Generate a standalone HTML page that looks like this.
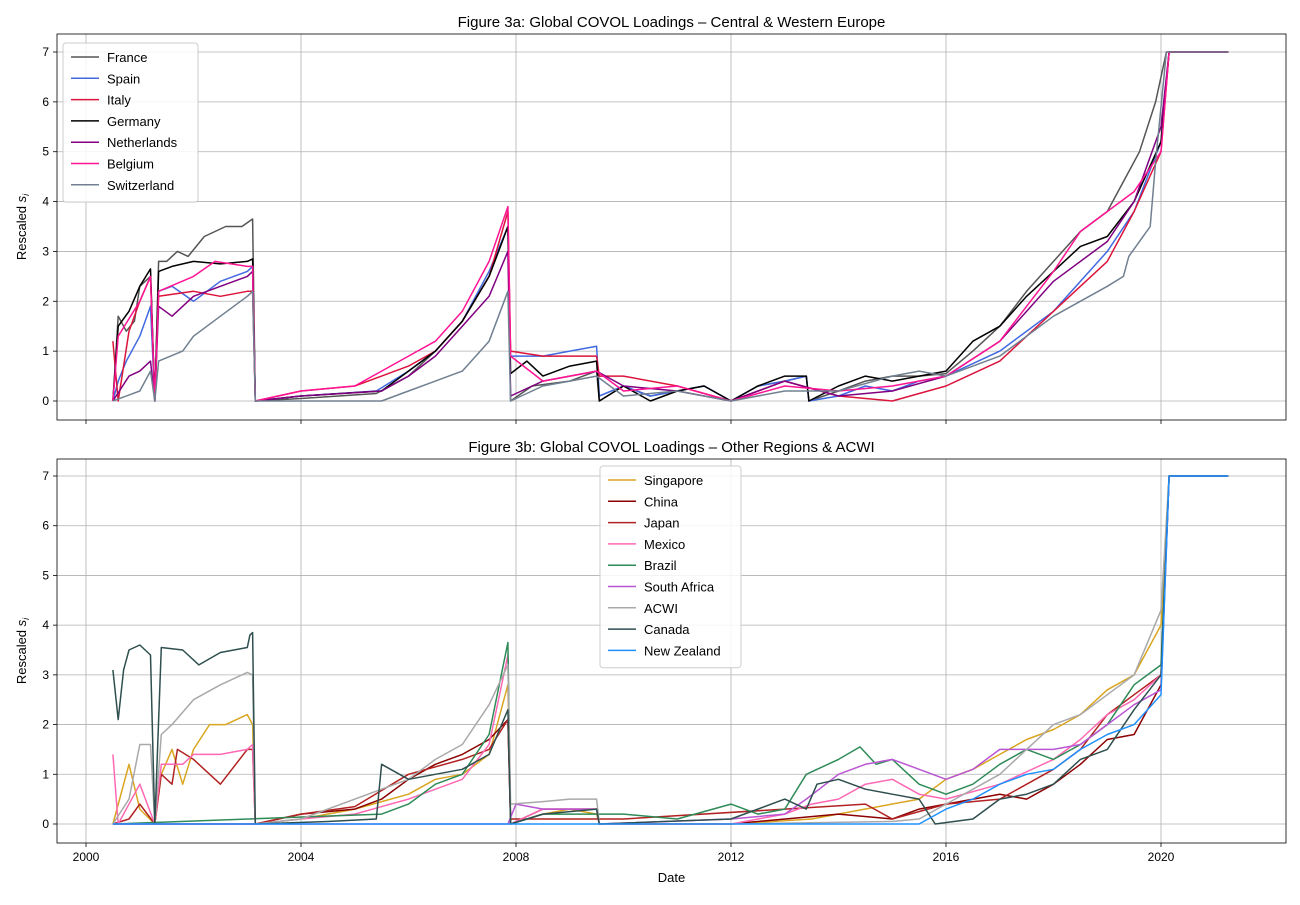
<!DOCTYPE html>
<html><head><meta charset="utf-8"><style>
body{margin:0;background:#fff;}
svg text{font-family:"Liberation Sans","DejaVu Sans",sans-serif;fill:#000;}
</style></head><body>
<svg id="chart" width="1300" height="900" viewBox="0 0 1300 900" xmlns="http://www.w3.org/2000/svg"></svg>
<script>
// ---- Top panel data (Figure 3a) ----
const franceDates=[2000.5,2000.6,2000.75,2000.9,2001.0,2001.2,2001.28,2001.35,2001.5,2001.7,2001.9,2002.2,2002.6,2002.9,2003.1,2003.15,2004,2005.4,2006,2006.5,2007,2007.5,2007.85,2007.9,2008.3,2009,2009.5,2009.55,2010,2010.5,2011,2011.5,2012,2012.5,2013,2013.4,2013.45,2014,2014.5,2015,2015.5,2016,2016.5,2017,2017.5,2018,2018.5,2019,2019.3,2019.6,2019.9,2020.1,2021.25];
const franceVals=[0,1.7,1.4,1.6,2.3,2.5,0,2.8,2.8,3.0,2.9,3.3,3.5,3.5,3.65,0,0.05,0.15,0.5,1.0,1.6,2.5,3.5,0,0.3,0.4,0.6,0,0.3,0.1,0.2,0.3,0,0.3,0.4,0.5,0,0.2,0.4,0.5,0.5,0.55,1.0,1.5,2.2,2.8,3.4,3.8,4.4,5.0,6.0,7.0,7.0];
const spainDates=[2000.5,2000.6,2000.75,2001.0,2001.2,2001.28,2001.35,2001.6,2002,2002.5,2003,2003.1,2003.15,2004,2005.4,2006,2006.5,2007,2007.5,2007.85,2007.9,2008.5,2009,2009.5,2009.55,2010,2010.5,2011,2011.5,2012,2012.5,2013,2013.4,2013.45,2014,2014.5,2015,2015.5,2016,2017,2018,2019,2019.5,2020,2020.15,2021.25];
const spainVals=[0,0.4,0.8,1.3,1.9,0,2.2,2.3,2.0,2.4,2.6,2.7,0,0.1,0.2,0.6,1.0,1.6,2.6,3.5,0.9,0.9,1.0,1.1,0.1,0.3,0.1,0.2,0.3,0,0.3,0.4,0.5,0,0.1,0.3,0.2,0.4,0.5,1.0,1.8,3.0,3.8,5.2,7.0,7.0];
const italyDates=[2000.5,2000.6,2000.8,2001.0,2001.2,2001.28,2001.35,2002,2002.5,2003,2003.1,2003.15,2004,2005,2005.5,2006,2006.5,2007,2007.5,2007.85,2007.9,2008.5,2009.5,2009.55,2010,2011,2012,2013,2014,2015,2016,2017,2018,2018.5,2019,2019.5,2020,2020.15,2021.25];
const italyVals=[1.2,0,1.4,2.0,2.5,0,2.1,2.2,2.1,2.2,2.2,0,0.2,0.3,0.5,0.7,1.0,1.6,2.5,3.8,1.0,0.9,0.9,0.5,0.5,0.3,0,0.4,0.1,0,0.3,0.8,1.8,2.3,2.8,3.8,5.0,7.0,7.0];
const germanyDates=[2000.5,2000.6,2000.8,2001.0,2001.2,2001.28,2001.35,2001.6,2002,2002.5,2003,2003.1,2003.15,2004,2005.5,2006,2006.5,2007,2007.5,2007.85,2007.9,2008.2,2008.5,2009,2009.5,2009.55,2010,2010.5,2011,2011.5,2012,2012.5,2013,2013.4,2013.45,2014,2014.5,2015,2016,2016.5,2017,2017.5,2018,2018.5,2019,2019.5,2020,2020.15,2021.25];
const germanyVals=[0,1.5,1.8,2.3,2.65,0,2.6,2.7,2.8,2.75,2.8,2.85,0,0.1,0.2,0.6,1.0,1.6,2.5,3.5,0.55,0.8,0.5,0.7,0.8,0,0.3,0,0.2,0.3,0,0.3,0.5,0.5,0,0.3,0.5,0.4,0.6,1.2,1.5,2.1,2.6,3.1,3.3,4.0,5.2,7.0,7.0];
const netherlandsDates=[2000.5,2000.8,2001.0,2001.2,2001.28,2001.35,2001.6,2002,2002.5,2003,2003.1,2003.15,2004,2005.5,2006,2006.5,2007,2007.5,2007.85,2007.9,2008.5,2009,2009.5,2010,2011,2012,2013,2014,2015,2016,2017,2018,2019,2019.5,2020,2020.15,2021.25];
const netherlandsVals=[0,0.5,0.6,0.8,0,1.9,1.7,2.1,2.3,2.5,2.6,0,0.1,0.2,0.5,0.9,1.5,2.1,3.0,0.1,0.4,0.5,0.6,0.3,0.2,0,0.4,0.1,0.2,0.5,1.2,2.4,3.2,4.0,5.5,7.0,7.0];
const belgiumDates=[2000.5,2000.6,2001.0,2001.2,2001.28,2001.35,2002,2002.4,2003,2003.1,2003.15,2004,2005,2005.5,2006,2006.5,2007,2007.5,2007.85,2007.9,2008.5,2009,2009.5,2010,2011,2012,2013,2014,2015,2016,2017,2017.5,2018,2018.5,2019,2019.5,2020,2020.15,2021.25];
const belgiumVals=[0,1.3,2.0,2.5,0,2.2,2.5,2.8,2.7,2.7,0,0.2,0.3,0.6,0.9,1.2,1.8,2.8,3.9,0.9,0.4,0.5,0.6,0.2,0.3,0,0.3,0.2,0.3,0.5,1.2,1.9,2.6,3.4,3.8,4.2,5.0,7.0,7.0];
const switzerlandDates=[2000.5,2001.0,2001.2,2001.28,2001.35,2001.8,2002,2002.5,2003,2003.1,2003.15,2005.5,2006,2006.5,2007,2007.5,2007.85,2007.9,2008.5,2009,2009.5,2010,2011,2012,2013,2014,2015,2015.5,2016,2017,2018,2019,2019.3,2019.4,2019.8,2019.9,2020.1,2021.25];
const switzerlandVals=[0,0.2,0.6,0,0.8,1.0,1.3,1.7,2.1,2.2,0,0,0.2,0.4,0.6,1.2,2.2,0,0.3,0.4,0.5,0.1,0.2,0,0.2,0.2,0.5,0.6,0.5,0.9,1.7,2.3,2.5,2.9,3.5,4.8,7.0,7.0];

// ---- Bottom panel data (Figure 3b) ----
const singaporeDates=[2000.5,2000.8,2001.0,2001.28,2001.4,2001.6,2001.8,2002,2002.3,2002.6,2003,2003.1,2003.15,2004,2005,2006,2006.5,2007,2007.5,2007.85,2007.9,2008.5,2009,2009.5,2009.55,2012,2013.5,2015.5,2016,2016.5,2017,2017.5,2018,2018.5,2019,2019.5,2020,2020.15,2021.25];
const singaporeVals=[0,1.2,0.3,0,1.0,1.5,0.8,1.5,2.0,2.0,2.2,2.0,0,0.1,0.3,0.6,0.9,1.0,1.4,2.8,0,0.2,0.3,0.2,0,0,0.1,0.5,0.9,1.1,1.4,1.7,1.9,2.2,2.7,3.0,4.0,7.0,7.0];
const chinaDates=[2000.5,2003.15,2004,2005,2005.5,2006,2006.5,2007,2007.5,2007.85,2007.9,2008.5,2009.5,2009.55,2012,2014,2015,2015.5,2016,2017,2017.5,2018,2018.5,2019,2019.5,2020,2020.15,2021.25];
const chinaVals=[0,0,0.2,0.3,0.5,0.9,1.2,1.4,1.7,2.1,0,0.3,0.3,0,0,0.2,0.1,0.3,0.4,0.6,0.5,0.8,1.2,1.7,1.8,2.8,7.0,7.0];
const japanDates=[2000.5,2000.8,2001.0,2001.28,2001.4,2001.6,2001.7,2002,2002.5,2003,2003.1,2003.15,2004,2005,2006,2007,2007.5,2007.85,2007.9,2010,2013,2014.5,2015,2016,2017,2018,2018.5,2019,2019.5,2020,2020.15,2021.25];
const japanVals=[0,0.1,0.4,0,1.0,0.8,1.5,1.3,0.8,1.5,1.5,0,0.2,0.35,1.0,1.3,1.5,2.1,0.1,0.1,0.3,0.4,0.1,0.4,0.5,1.1,1.5,2.2,2.6,3.0,7.0,7.0];
const mexicoDates=[2000.5,2000.6,2001.0,2001.28,2001.4,2001.8,2002,2002.5,2003,2003.1,2003.15,2004,2005,2006,2007,2007.5,2007.85,2007.9,2008.5,2009.5,2009.55,2012,2013,2013.5,2014,2014.5,2015,2015.5,2016,2017,2018,2018.5,2019,2019.5,2020,2020.15,2021.25];
const mexicoVals=[1.4,0,0.8,0,1.2,1.2,1.4,1.4,1.5,1.6,0,0.1,0.2,0.5,0.9,1.6,3.4,0,0.3,0.3,0,0,0.2,0.4,0.5,0.8,0.9,0.6,0.5,0.8,1.3,1.7,2.2,2.5,3.0,7.0,7.0];
const brazilDates=[2000.5,2005.5,2006,2006.5,2007,2007.5,2007.85,2007.9,2008.5,2009.5,2010,2011,2012,2012.5,2013,2013.4,2014,2014.4,2014.7,2015,2015.5,2016,2016.5,2017,2017.5,2018,2018.5,2019,2019.5,2020,2020.15,2021.25];
const brazilVals=[0,0.2,0.4,0.8,1.0,1.8,3.65,0,0.2,0.2,0.2,0.1,0.4,0.2,0.3,1.0,1.3,1.55,1.2,1.3,0.8,0.6,0.8,1.2,1.5,1.3,1.6,2.0,2.8,3.2,7.0,7.0];
const southAfricaDates=[2000.5,2007.85,2008,2008.5,2009.5,2009.55,2012,2013,2013.4,2014,2014.5,2015,2015.5,2016,2016.5,2017,2017.5,2018,2018.5,2019,2019.5,2020,2020.15,2021.25];
const southAfricaVals=[0,0,0.4,0.3,0.3,0,0.1,0.2,0.5,1.0,1.2,1.3,1.1,0.9,1.1,1.5,1.5,1.5,1.6,2.0,2.4,2.7,7.0,7.0];
const acwiDates=[2000.5,2000.8,2001.0,2001.2,2001.28,2001.4,2001.6,2002,2002.5,2003,2003.1,2003.15,2004,2005.5,2006,2006.5,2007,2007.5,2007.85,2007.9,2008.5,2009,2009.5,2009.55,2012,2015,2015.5,2016,2017,2017.5,2018,2018.5,2019,2019.5,2020,2020.15,2021.25];
const acwiVals=[0,0.5,1.6,1.6,0,1.8,2.0,2.5,2.8,3.05,3.0,0,0.1,0.7,0.9,1.3,1.6,2.4,3.2,0.4,0.45,0.5,0.5,0,0,0.05,0.1,0.4,1.0,1.5,2.0,2.2,2.6,3.0,4.3,7.0,7.0];
const canadaDates=[2000.5,2000.6,2000.7,2000.8,2001.0,2001.2,2001.28,2001.4,2001.8,2002.1,2002.5,2003,2003.05,2003.1,2003.15,2004.5,2005.4,2005.5,2006,2006.5,2007,2007.5,2007.85,2007.9,2008.5,2009.5,2009.55,2012,2013,2013.4,2013.6,2014,2014.5,2015,2015.5,2015.8,2016.5,2017,2017.5,2018,2018.5,2019,2019.5,2020,2020.15,2021.25];
const canadaVals=[3.1,2.1,3.1,3.5,3.6,3.4,0,3.55,3.5,3.2,3.45,3.55,3.8,3.85,0,0.05,0.1,1.2,0.9,1.0,1.1,1.4,2.3,0,0.2,0.3,0,0.1,0.5,0.3,0.8,0.9,0.7,0.6,0.5,0,0.1,0.5,0.6,0.8,1.3,1.5,2.3,3.0,7.0,7.0];
const newZealandDates=[2000.5,2015.5,2016,2016.5,2017,2017.5,2018,2018.5,2019,2019.5,2020,2020.15,2021.25];
const newZealandVals=[0,0,0.3,0.5,0.8,1.0,1.1,1.5,1.8,2.0,2.6,7.0,7.0];

const xTicks=[2000,2004,2008,2012,2016,2020];
const yTicks=[0,1,2,3,4,5,6,7];

const topSeries=[
 ['France','#555555',franceDates,franceVals],
 ['Spain','#4169e1',spainDates,spainVals],
 ['Italy','#dc143c',italyDates,italyVals],
 ['Germany','#000000',germanyDates,germanyVals],
 ['Netherlands','#800080',netherlandsDates,netherlandsVals],
 ['Belgium','#ff1493',belgiumDates,belgiumVals],
 ['Switzerland','#708090',switzerlandDates,switzerlandVals]];
const botSeries=[
 ['Singapore','#daa520',singaporeDates,singaporeVals],
 ['China','#8b0000',chinaDates,chinaVals],
 ['Japan','#b22222',japanDates,japanVals],
 ['Mexico','#ff69b4',mexicoDates,mexicoVals],
 ['Brazil','#2e8b57',brazilDates,brazilVals],
 ['South Africa','#ba55d3',southAfricaDates,southAfricaVals],
 ['ACWI','#a9a9a9',acwiDates,acwiVals],
 ['Canada','#2f4f4f',canadaDates,canadaVals],
 ['New Zealand','#1e90ff',newZealandDates,newZealandVals]];

const NS='http://www.w3.org/2000/svg';
const svg=document.getElementById('chart');
function mk(tag,attrs,parent,text){const e=document.createElementNS(NS,tag);for(const k in attrs)e.setAttribute(k,attrs[k]);if(text!==undefined)e.textContent=text;(parent||svg).appendChild(e);return e;}
const X0=57,X1=1286;
function xs(d){return 86+(d-2000)*(1161-86)/20;}

function panel(id,top,bottom,y0px,y7px,title,series,showXLabels,legend){
  const g=mk('g',{});
  
  
  const ys=v=>y0px+(y7px-y0px)*v/7;
  xTicks.forEach(t=>{
    const gl=mk('line',{x1:xs(t),x2:xs(t),y1:top,y2:bottom,stroke:'#b0b0b0','stroke-width':0.8},g);
    
    mk('line',{x1:xs(t),x2:xs(t),y1:bottom,y2:bottom+4,stroke:'#000','stroke-width':0.8},g);
    if(showXLabels){const tl=mk('text',{x:xs(t),y:bottom+18,'font-size':12,'text-anchor':'middle'},g,String(t));
      }
  });
  yTicks.forEach(t=>{
    const gl=mk('line',{x1:X0,x2:X1,y1:ys(t),y2:ys(t),stroke:'#b0b0b0','stroke-width':0.8},g);
    
    mk('line',{x1:X0-4,x2:X0,y1:ys(t),y2:ys(t),stroke:'#000','stroke-width':0.8},g);
    const tl=mk('text',{x:X0-8,y:ys(t)+4,'font-size':12,'text-anchor':'end'},g,String(t));
    
  });
  series.forEach(s=>{
    const pts=s[2].map((d,i)=>xs(d).toFixed(1)+','+ys(s[3][i]).toFixed(1)).join(' ');
    const p=mk('polyline',{points:pts,fill:'none',stroke:s[1],'stroke-width':1.5,'stroke-linejoin':'round'},g);
    
    
  });
  const fr=mk('rect',{x:X0,y:top,width:X1-X0,height:bottom-top,fill:'none',stroke:'#000','stroke-width':0.8},g);
  
  const tt=mk('text',{x:(X0+X1)/2,y:top-7,'font-size':15,'text-anchor':'middle'},g,title);
  
  const yl=mk('text',{x:0,y:0,'font-size':13,'text-anchor':'middle',transform:'translate(26,'+((top+bottom)/2)+') rotate(-90)'},g);
  
  yl.textContent='Rescaled ';
  const it=mk('tspan',{'font-style':'italic'},yl,'s');
  mk('tspan',{'font-style':'italic','font-size':9,dy:3},yl,'i');
  // legend
  const lg=mk('g',{},g);
  
  mk('rect',{x:legend.x,y:legend.y,width:legend.w,height:series.length*21.3+10,fill:'#fff','fill-opacity':0.85,stroke:'#ccc',rx:3},lg);
  series.forEach((s,i)=>{
    const cy=legend.y+14+i*21.3;
    const e=mk('g',{},lg);
    
    mk('line',{x1:legend.x+8,x2:legend.x+36,y1:cy,y2:cy,stroke:s[1],'stroke-width':1.5},e);
    mk('text',{x:legend.x+44,y:cy+5,'font-size':13},e,s[0]);
  });
}
panel('top-panel',34,420,401,52,'Figure 3a: Global COVOL Loadings \u2013 Central & Western Europe',topSeries,false,{x:63,y:43,w:135});
panel('bottom-panel',459,843,824,476,'Figure 3b: Global COVOL Loadings \u2013 Other Regions & ACWI',botSeries,true,{x:600,y:466,w:141});
const xl=mk('text',{x:(X0+X1)/2,y:882,'font-size':13,'text-anchor':'middle'},svg,'Date');


</script>
</body></html>
